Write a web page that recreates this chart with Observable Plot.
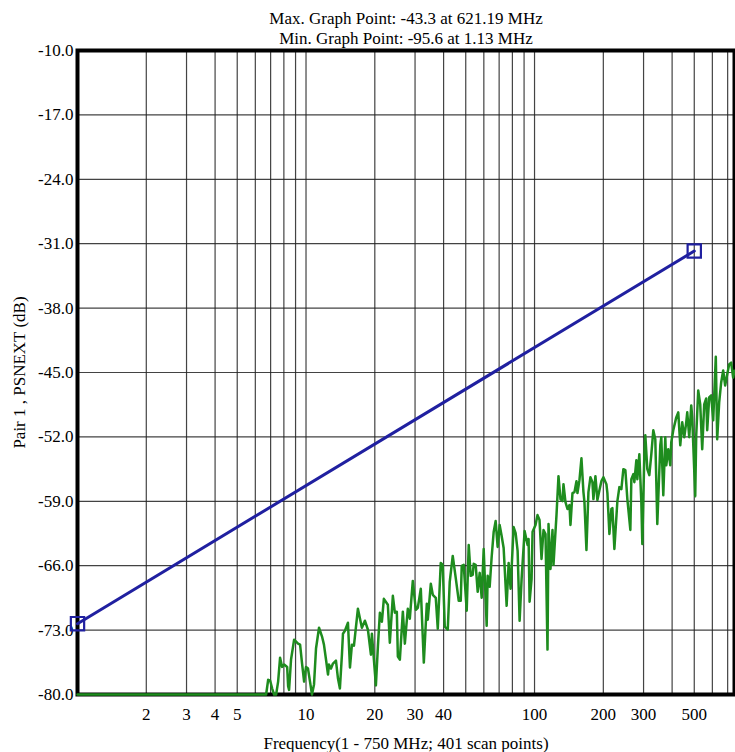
<!DOCTYPE html>
<html><head><meta charset="utf-8">
<script src="https://cdn.jsdelivr.net/npm/d3@7"></script>
<script src="https://cdn.jsdelivr.net/npm/@observablehq/plot@0.6"></script>
<style>
body{margin:0;background:#fff}
svg{display:block}
svg, svg text, svg g { font-family: "Liberation Serif", serif !important; }
</style>
</head><body><div id="chart"></div>
<script>
const freqMHz = [1, 6.69, 6.83, 6.97, 7.11, 7.25, 7.40, 7.55, 7.70, 7.86, 8.02, 8.27, 8.35, 8.43, 8.60, 8.87, 9.23, 9.42, 9.61, 9.81,
  10.0, 10.20, 10.41, 10.62, 10.84, 11.06, 11.40, 11.75, 11.98, 12.23, 12.48, 12.60, 12.86, 13.12, 13.52, 13.80, 14.07, 14.36, 14.51, 14.80,
  15.26, 15.57, 15.88, 16.21, 16.87, 17.56, 18.10, 18.66, 19.23, 19.42, 20.22, 20.63, 21.05, 21.48, 21.91, 22.81, 23.27, 23.99, 24.48, 24.97,
  25.23, 25.74, 26.53, 27.07, 27.89, 28.46, 29.33, 30.23, 30.85, 31.79, 32.77, 33.77, 34.11, 35.16, 35.87, 36.97, 37.72, 38.87, 39.66, 40.47,
  41.71, 42.55, 43.86, 45.20, 46.59, 47.54, 48.02, 48.99, 50.49, 51.52, 52.57, 53.63, 54.17, 55.27, 56.40, 57.54, 58.71, 59.91, 61.74, 62.36,
  63.63, 64.92, 66.24, 67.59, 68.96, 70.36, 71.79, 73.25, 75.50, 77.03, 78.60, 81.00, 82.65, 84.33, 86.04, 87.79, 90.48, 93.25, 94.19, 95.15,
  97.07, 98.04, 101.0, 103.06, 105.16, 107.29, 109.47, 111.70, 113.97, 115.13, 117.45, 119.83, 121.04, 124.76, 127.29, 129.87, 132.51, 133.86, 136.58, 139.35,
  142.18, 143.62, 146.56, 149.53, 152.57, 154.11, 157.24, 160.44, 163.70, 165.35, 168.71, 172.13, 175.64, 179.20, 181.01, 184.69, 188.44, 192.28, 196.18, 200.17,
  206.30, 208.39, 212.62, 216.93, 219.13, 223.58, 230.42, 235.11, 239.88, 244.76, 249.73, 254.79, 262.61, 265.25, 270.66, 273.39, 278.94, 281.76, 287.50, 293.32,
  296.28, 302.32, 305.37, 311.56, 317.92, 324.35, 330.95, 337.68, 344.51, 355.09, 358.68, 365.98, 373.40, 377.17, 384.83, 392.65, 396.62, 404.69, 417.08, 425.54,
  434.20, 443.01, 452.03, 461.21, 465.87, 475.36, 485.01, 489.90, 504.91, 510.0, 520.35, 530.94, 541.73, 552.74, 563.96, 569.66, 581.26, 593.06, 605.11, 621.19,
  629.94, 642.76, 655.8, 669.13, 682.73, 696.6, 710.74, 725.2, 739.9, 750];
const psnextDb = [-80, -80, -78.4, -78.5, -79.35, -80, -80, -78.6, -76.0, -77.0, -76.75, -77.0, -79.1, -79.5, -76.2, -74.04, -74.47, -74.58, -76.64, -78.6,
  -77.0, -77.18, -78.6, -80, -78.9, -75.0, -72.74, -73.7, -74.58, -76.2, -77.83, -76.75, -77.18, -76.64, -76.32, -78.27, -79.35, -75.67, -73.39, -73.07,
  -72.2, -77.07, -74.58, -74.69, -70.68, -72.74, -71.98, -72.96, -75.67, -73.39, -79.02, -74.8, -71.11, -72.09, -69.6, -70.25, -74.37, -69.27, -71.11, -71.0,
  -75.88, -76.21, -71.0, -74.47, -70.68, -71.76, -67.65, -70.79, -70.57, -68.51, -76.53, -70.14, -71.87, -67.97, -69.16, -69.49, -72.85, -65.7, -65.91, -72.63,
  -72.96, -67.76, -64.94, -67.32, -69.81, -69.81, -66.02, -65.91, -70.9, -63.75, -67.1, -67.0, -65.8, -65.91, -68.84, -66.78, -69.49, -64.18, -72.52, -67.1,
  -68.3, -65.05, -62.34, -61.15, -63.96, -61.58, -62.77, -64.07, -70.36, -65.7, -68.51, -61.8, -62.45, -64.4, -71.98, -67.43, -62.23, -63.75, -63.1, -69.92,
  -67.43, -62.3, -61.58, -60.5, -61.04, -65.26, -62.12, -62.55, -75.12, -61.47, -66.35, -62.12, -65.91, -60.5, -56.27, -58.76, -58.98, -57.14, -59.09, -59.84,
  -59.41, -61.58, -58.11, -58.0, -56.81, -58.11, -56.7, -54.32, -58.0, -59.09, -64.29, -58.0, -56.38, -56.92, -58.76, -56.27, -58.87, -57.79, -56.81, -56.38,
  -57.14, -58.11, -62.55, -59.84, -59.74, -64.18, -58.98, -57.46, -57.68, -55.51, -55.62, -58.76, -62.12, -56.59, -56.05, -56.92, -54.54, -56.59, -53.89, -59.09,
  -63.64, -54.0, -51.83, -55.51, -56.16, -53.89, -51.28, -52.26, -61.47, -52.91, -52.04, -58.33, -52.04, -55.08, -53.34, -55.08, -52.58, -51.28, -49.88, -49.33,
  -52.91, -50.42, -52.04, -50.42, -49.33, -52.04, -48.58, -49.88, -58.44, -51.83, -46.95, -48.47, -53.34, -48.47, -47.82, -51.28, -47.71, -47.49, -50.2, -43.3,
  -52.26, -48.25, -46.08, -44.78, -46.41, -45.22, -44.13, -43.92, -45.54, -44.8];
const limitFreqMHz = [1, 500];
const limitDb = [-72.3, -31.8];
const yTicks = [-10, -17, -24, -31, -38, -45, -52, -59, -66, -73, -80];
const xGrid = [2, 3, 4, 5, 6, 7, 8, 9, 10, 20, 30, 40, 50, 60, 70, 80, 90, 100, 200, 300, 400, 500, 600, 700];
const xLabels = [2, 3, 4, 5, 10, 20, 30, 40, 100, 200, 300, 500];
const titleLines = ["Max. Graph Point: -43.3 at 621.19 MHz", "Min. Graph Point: -95.6 at 1.13 MHz"];
const xTitle = "Frequency(1 - 750 MHz; 401 scan points)";
const yTitle = "Pair 1 , PSNEXT (dB)";

const measured = freqMHz.map((f, i) => ({f, db: psnextDb[i]}));
const limit = limitFreqMHz.map((f, i) => ({f, db: limitDb[i]}));
const font = "Liberation Serif";

const plot = Plot.plot({
  width: 735, height: 752,
  marginLeft: 77, marginRight: 1, marginTop: 50, marginBottom: 58,
  style: {fontFamily: font, fontSize: "17px", background: "white", color: "black", overflow: "visible"},
  x: {type: "log", domain: [1, 750], axis: null},
  y: {domain: [-80, -10], axis: null},
  marks: [
    Plot.ruleX(xGrid, {stroke: "#222", strokeWidth: 1.2, strokeOpacity: 0.85}),
    Plot.ruleY(yTicks, {stroke: "#222", strokeWidth: 1.2, strokeOpacity: 0.85}),
    Plot.text(xLabels, {x: d => d, text: d => String(d), frameAnchor: "bottom", lineAnchor: "middle", dy: 20, fontFamily: font, fontSize: 17}),
    Plot.text(yTicks, {y: d => d, text: d => d.toFixed(1), frameAnchor: "left", textAnchor: "end", lineAnchor: "middle", dx: -4, fontFamily: font, fontSize: 17}),
    Plot.frame({stroke: "black", strokeWidth: 4}),
    Plot.line(measured, {x: "f", y: "db", stroke: "#1e8c1e", strokeWidth: 2.5}),
    Plot.line(limit, {x: "f", y: "db", stroke: "#2020a0", strokeWidth: 3}),
    Plot.dot(limit, {x: "f", y: "db", symbol: "square", r: 7.5, stroke: "#2020a0", strokeWidth: 2.2, fill: "none"}),
    Plot.text([titleLines[0]], {text: d => d, frameAnchor: "top", lineAnchor: "middle", dy: -32, fontFamily: font, fontSize: 17}),
    Plot.text([titleLines[1]], {text: d => d, frameAnchor: "top", lineAnchor: "middle", dy: -12, fontFamily: font, fontSize: 17}),
    Plot.text([xTitle], {text: d => d, frameAnchor: "bottom", lineAnchor: "middle", dy: 49, fontFamily: font, fontSize: 17}),
    Plot.text([yTitle], {text: d => d, frameAnchor: "left", textAnchor: "middle", lineAnchor: "middle", dx: -58, rotate: -90, fontFamily: font, fontSize: 17})
  ]
});
document.getElementById("chart").appendChild(plot);
</script>
</body></html>
